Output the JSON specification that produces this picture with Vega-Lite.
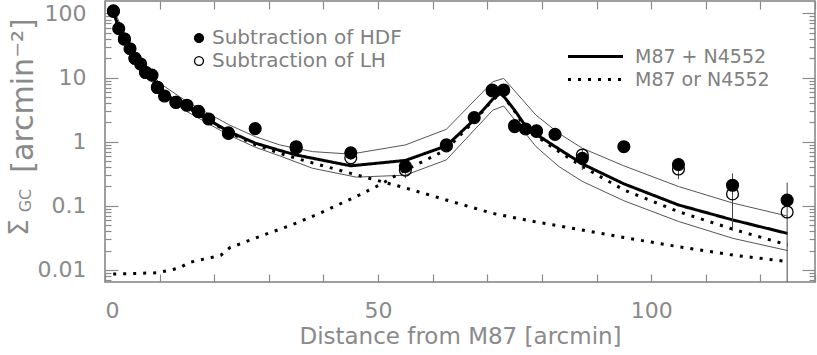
{
  "$schema": "https://vega.github.io/schema/vega-lite/v6.json",
  "width": 710,
  "height": 281,
  "autosize": "none",
  "padding": {"left": 105, "top": 1, "right": 2, "bottom": 73},
  "background": "white",
  "config": {
    "font": "DejaVu Sans",
    "view": {"stroke": "#808080", "strokeWidth": 1.5},
    "axis": {"domain": false, "grid": false, "labelColor": "#8a8a8a", "titleColor": "#8a8a8a", "tickColor": "#8a8a8a", "labelFontWeight": "normal", "titleFontWeight": "normal", "labelFontSize": 22, "titleFontSize": 22}
  },
  "datasets": {
    "env": [
      {"r": 1.5, "v": 118, "band": "upper"}, {"r": 5, "v": 27, "band": "upper"}, {"r": 10, "v": 8.2, "band": "upper"}, {"r": 15, "v": 4.2, "band": "upper"}, {"r": 20, "v": 2.45, "band": "upper"}, {"r": 22.6, "v": 1.85, "band": "upper"}, {"r": 27.5, "v": 1.2, "band": "upper"}, {"r": 32, "v": 0.89, "band": "upper"}, {"r": 38, "v": 0.7, "band": "upper"}, {"r": 45, "v": 0.64, "band": "upper"}, {"r": 55, "v": 0.89, "band": "upper"}, {"r": 62.5, "v": 1.56, "band": "upper"}, {"r": 71, "v": 8.6, "band": "upper"}, {"r": 73, "v": 9.7, "band": "upper"}, {"r": 78.9, "v": 2.6, "band": "upper"}, {"r": 83.1, "v": 1.35, "band": "upper"}, {"r": 87.4, "v": 0.79, "band": "upper"}, {"r": 95, "v": 0.42, "band": "upper"}, {"r": 105, "v": 0.2, "band": "upper"}, {"r": 115, "v": 0.11, "band": "upper"}, {"r": 125, "v": 0.069, "band": "upper"},
      {"r": 1.5, "v": 100, "band": "lower"}, {"r": 5, "v": 21, "band": "lower"}, {"r": 10, "v": 6.0, "band": "lower"}, {"r": 15, "v": 2.95, "band": "lower"}, {"r": 20, "v": 1.7, "band": "lower"}, {"r": 22.6, "v": 1.28, "band": "lower"}, {"r": 27.5, "v": 0.82, "band": "lower"}, {"r": 32, "v": 0.6, "band": "lower"}, {"r": 38, "v": 0.385, "band": "lower"}, {"r": 46, "v": 0.28, "band": "lower"}, {"r": 55, "v": 0.3, "band": "lower"}, {"r": 62.5, "v": 0.52, "band": "lower"}, {"r": 71, "v": 3.1, "band": "lower"}, {"r": 73, "v": 3.6, "band": "lower"}, {"r": 78.9, "v": 0.84, "band": "lower"}, {"r": 83.1, "v": 0.41, "band": "lower"}, {"r": 87.4, "v": 0.24, "band": "lower"}, {"r": 95, "v": 0.12, "band": "lower"}, {"r": 105, "v": 0.057, "band": "lower"}, {"r": 115, "v": 0.031, "band": "lower"}, {"r": 125, "v": 0.02, "band": "lower"}
    ],
    "model": [
      {"r": 1.5, "v": 108, "comp": "sum", "type": "M87 + N4552"}, {"r": 2.5, "v": 60, "comp": "sum", "type": "M87 + N4552"}, {"r": 3.5, "v": 40, "comp": "sum", "type": "M87 + N4552"}, {"r": 4.5, "v": 29, "comp": "sum", "type": "M87 + N4552"}, {"r": 5.5, "v": 21.5, "comp": "sum", "type": "M87 + N4552"}, {"r": 6.5, "v": 16.5, "comp": "sum", "type": "M87 + N4552"}, {"r": 7.5, "v": 13, "comp": "sum", "type": "M87 + N4552"}, {"r": 8.5, "v": 10.6, "comp": "sum", "type": "M87 + N4552"}, {"r": 10, "v": 6.9, "comp": "sum", "type": "M87 + N4552"}, {"r": 12, "v": 4.9, "comp": "sum", "type": "M87 + N4552"}, {"r": 15, "v": 3.5, "comp": "sum", "type": "M87 + N4552"}, {"r": 18.5, "v": 2.3, "comp": "sum", "type": "M87 + N4552"}, {"r": 22.6, "v": 1.45, "comp": "sum", "type": "M87 + N4552"}, {"r": 27.5, "v": 0.95, "comp": "sum", "type": "M87 + N4552"}, {"r": 32, "v": 0.73, "comp": "sum", "type": "M87 + N4552"}, {"r": 35, "v": 0.62, "comp": "sum", "type": "M87 + N4552"}, {"r": 45, "v": 0.42, "comp": "sum", "type": "M87 + N4552"}, {"r": 55, "v": 0.51, "comp": "sum", "type": "M87 + N4552"}, {"r": 62.5, "v": 0.86, "comp": "sum", "type": "M87 + N4552"}, {"r": 67.6, "v": 2.2, "comp": "sum", "type": "M87 + N4552"}, {"r": 71, "v": 4.6, "comp": "sum", "type": "M87 + N4552"}, {"r": 72.5, "v": 5.8, "comp": "sum", "type": "M87 + N4552"}, {"r": 75, "v": 3.1, "comp": "sum", "type": "M87 + N4552"}, {"r": 77, "v": 1.75, "comp": "sum", "type": "M87 + N4552"}, {"r": 79, "v": 1.3, "comp": "sum", "type": "M87 + N4552"}, {"r": 82.4, "v": 0.84, "comp": "sum", "type": "M87 + N4552"}, {"r": 87.4, "v": 0.45, "comp": "sum", "type": "M87 + N4552"}, {"r": 95, "v": 0.22, "comp": "sum", "type": "M87 + N4552"}, {"r": 105, "v": 0.103, "comp": "sum", "type": "M87 + N4552"}, {"r": 115, "v": 0.06, "comp": "sum", "type": "M87 + N4552"}, {"r": 125, "v": 0.037, "comp": "sum", "type": "M87 + N4552"},
      {"r": 1.5, "v": 108, "comp": "m87", "type": "M87 or N4552"}, {"r": 2.5, "v": 60, "comp": "m87", "type": "M87 or N4552"}, {"r": 3.5, "v": 40, "comp": "m87", "type": "M87 or N4552"}, {"r": 4.5, "v": 29, "comp": "m87", "type": "M87 or N4552"}, {"r": 5.5, "v": 21.5, "comp": "m87", "type": "M87 or N4552"}, {"r": 6.5, "v": 16.5, "comp": "m87", "type": "M87 or N4552"}, {"r": 7.5, "v": 13, "comp": "m87", "type": "M87 or N4552"}, {"r": 8.5, "v": 10.6, "comp": "m87", "type": "M87 or N4552"}, {"r": 10, "v": 6.9, "comp": "m87", "type": "M87 or N4552"}, {"r": 12, "v": 4.85, "comp": "m87", "type": "M87 or N4552"}, {"r": 15, "v": 3.45, "comp": "m87", "type": "M87 or N4552"}, {"r": 18.5, "v": 2.25, "comp": "m87", "type": "M87 or N4552"}, {"r": 22.6, "v": 1.4, "comp": "m87", "type": "M87 or N4552"}, {"r": 27.5, "v": 0.9, "comp": "m87", "type": "M87 or N4552"}, {"r": 32, "v": 0.66, "comp": "m87", "type": "M87 or N4552"}, {"r": 35, "v": 0.55, "comp": "m87", "type": "M87 or N4552"}, {"r": 45, "v": 0.32, "comp": "m87", "type": "M87 or N4552"}, {"r": 55, "v": 0.19, "comp": "m87", "type": "M87 or N4552"}, {"r": 62.5, "v": 0.123, "comp": "m87", "type": "M87 or N4552"}, {"r": 71, "v": 0.076, "comp": "m87", "type": "M87 or N4552"}, {"r": 78.9, "v": 0.056, "comp": "m87", "type": "M87 or N4552"}, {"r": 85.3, "v": 0.045, "comp": "m87", "type": "M87 or N4552"}, {"r": 95, "v": 0.032, "comp": "m87", "type": "M87 or N4552"}, {"r": 105, "v": 0.023, "comp": "m87", "type": "M87 or N4552"}, {"r": 115, "v": 0.017, "comp": "m87", "type": "M87 or N4552"}, {"r": 125, "v": 0.0135, "comp": "m87", "type": "M87 or N4552"},
      {"r": 1.5, "v": 0.0086, "comp": "n4552", "type": "M87 or N4552"}, {"r": 9.5, "v": 0.009, "comp": "n4552", "type": "M87 or N4552"}, {"r": 11.7, "v": 0.0098, "comp": "n4552", "type": "M87 or N4552"}, {"r": 13.7, "v": 0.0108, "comp": "n4552", "type": "M87 or N4552"}, {"r": 15.4, "v": 0.013, "comp": "n4552", "type": "M87 or N4552"}, {"r": 17.3, "v": 0.0142, "comp": "n4552", "type": "M87 or N4552"}, {"r": 19.3, "v": 0.0155, "comp": "n4552", "type": "M87 or N4552"}, {"r": 21.2, "v": 0.0169, "comp": "n4552", "type": "M87 or N4552"}, {"r": 22.8, "v": 0.022, "comp": "n4552", "type": "M87 or N4552"}, {"r": 26.5, "v": 0.029, "comp": "n4552", "type": "M87 or N4552"}, {"r": 30.2, "v": 0.038, "comp": "n4552", "type": "M87 or N4552"}, {"r": 34.1, "v": 0.05, "comp": "n4552", "type": "M87 or N4552"}, {"r": 39.3, "v": 0.076, "comp": "n4552", "type": "M87 or N4552"}, {"r": 46.6, "v": 0.148, "comp": "n4552", "type": "M87 or N4552"}, {"r": 50.2, "v": 0.21, "comp": "n4552", "type": "M87 or N4552"}, {"r": 55, "v": 0.36, "comp": "n4552", "type": "M87 or N4552"}, {"r": 60.6, "v": 0.62, "comp": "n4552", "type": "M87 or N4552"}, {"r": 62.5, "v": 0.76, "comp": "n4552", "type": "M87 or N4552"}, {"r": 67.6, "v": 2.1, "comp": "n4552", "type": "M87 or N4552"}, {"r": 71, "v": 4.5, "comp": "n4552", "type": "M87 or N4552"}, {"r": 72.5, "v": 5.7, "comp": "n4552", "type": "M87 or N4552"}, {"r": 75, "v": 3.0, "comp": "n4552", "type": "M87 or N4552"}, {"r": 77, "v": 1.65, "comp": "n4552", "type": "M87 or N4552"}, {"r": 79, "v": 1.22, "comp": "n4552", "type": "M87 or N4552"}, {"r": 83.1, "v": 0.7, "comp": "n4552", "type": "M87 or N4552"}, {"r": 87.4, "v": 0.41, "comp": "n4552", "type": "M87 or N4552"}, {"r": 95, "v": 0.177, "comp": "n4552", "type": "M87 or N4552"}, {"r": 105, "v": 0.081, "comp": "n4552", "type": "M87 or N4552"}, {"r": 115, "v": 0.043, "comp": "n4552", "type": "M87 or N4552"}, {"r": 125, "v": 0.0245, "comp": "n4552", "type": "M87 or N4552"}
    ],
    "err": [
      {"r": 45, "lo": 0.52, "hi": 0.72}, {"r": 55, "lo": 0.27, "hi": 0.46}, {"r": 87.4, "lo": 0.36, "hi": 0.76}, {"r": 105, "lo": 0.26, "hi": 0.56}, {"r": 114.9, "lo": 0.041, "hi": 0.32}, {"r": 124.9, "lo": 0.005, "hi": 0.23}
    ],
    "pts": [
      {"r": 1.54, "v": 108, "series": "Subtraction of LH"}, {"r": 3.55, "v": 40, "series": "Subtraction of LH"}, {"r": 5.49, "v": 20, "series": "Subtraction of LH"}, {"r": 7.44, "v": 12, "series": "Subtraction of LH"}, {"r": 9.6, "v": 7.0, "series": "Subtraction of LH"}, {"r": 13.0, "v": 4.1, "series": "Subtraction of LH"}, {"r": 17.1, "v": 2.95, "series": "Subtraction of LH"}, {"r": 22.6, "v": 1.35, "series": "Subtraction of LH"}, {"r": 35.0, "v": 0.8, "series": "Subtraction of LH"}, {"r": 45.0, "v": 0.56, "series": "Subtraction of LH"}, {"r": 55.0, "v": 0.36, "series": "Subtraction of LH"}, {"r": 62.5, "v": 0.86, "series": "Subtraction of LH"}, {"r": 70.9, "v": 6.2, "series": "Subtraction of LH"}, {"r": 75.0, "v": 1.72, "series": "Subtraction of LH"}, {"r": 79.0, "v": 1.45, "series": "Subtraction of LH"}, {"r": 87.4, "v": 0.62, "series": "Subtraction of LH"}, {"r": 105.0, "v": 0.375, "series": "Subtraction of LH"}, {"r": 114.9, "v": 0.153, "series": "Subtraction of LH"}, {"r": 124.9, "v": 0.08, "series": "Subtraction of LH"},
      {"r": 1.54, "v": 110, "series": "Subtraction of HDF"}, {"r": 2.51, "v": 58, "series": "Subtraction of HDF"}, {"r": 3.55, "v": 40, "series": "Subtraction of HDF"}, {"r": 4.58, "v": 28.2, "series": "Subtraction of HDF"}, {"r": 5.49, "v": 20, "series": "Subtraction of HDF"}, {"r": 6.53, "v": 16.3, "series": "Subtraction of HDF"}, {"r": 7.44, "v": 12.1, "series": "Subtraction of HDF"}, {"r": 8.6, "v": 10.9, "series": "Subtraction of HDF"}, {"r": 9.6, "v": 7.06, "series": "Subtraction of HDF"}, {"r": 10.9, "v": 5.16, "series": "Subtraction of HDF"}, {"r": 13.0, "v": 4.12, "series": "Subtraction of HDF"}, {"r": 15.0, "v": 3.7, "series": "Subtraction of HDF"}, {"r": 17.1, "v": 2.98, "series": "Subtraction of HDF"}, {"r": 19.0, "v": 2.26, "series": "Subtraction of HDF"}, {"r": 22.6, "v": 1.37, "series": "Subtraction of HDF"}, {"r": 27.5, "v": 1.6, "series": "Subtraction of HDF"}, {"r": 35.0, "v": 0.835, "series": "Subtraction of HDF"}, {"r": 45.0, "v": 0.67, "series": "Subtraction of HDF"}, {"r": 55.0, "v": 0.41, "series": "Subtraction of HDF"}, {"r": 62.5, "v": 0.89, "series": "Subtraction of HDF"}, {"r": 67.6, "v": 2.37, "series": "Subtraction of HDF"}, {"r": 70.9, "v": 6.4, "series": "Subtraction of HDF"}, {"r": 73.0, "v": 6.4, "series": "Subtraction of HDF"}, {"r": 75.0, "v": 1.78, "series": "Subtraction of HDF"}, {"r": 77.0, "v": 1.58, "series": "Subtraction of HDF"}, {"r": 79.0, "v": 1.48, "series": "Subtraction of HDF"}, {"r": 82.4, "v": 1.3, "series": "Subtraction of HDF"}, {"r": 87.4, "v": 0.55, "series": "Subtraction of HDF"}, {"r": 95.0, "v": 0.835, "series": "Subtraction of HDF"}, {"r": 105.0, "v": 0.44, "series": "Subtraction of HDF"}, {"r": 114.9, "v": 0.209, "series": "Subtraction of HDF"}, {"r": 124.9, "v": 0.123, "series": "Subtraction of HDF"}
    ]
  },
  "resolve": {"axis": {"x": "independent", "y": "independent"}},
  "layer": [
    {
      "data": {"name": "env"},
      "mark": {"type": "line", "stroke": "#555555", "strokeWidth": 1, "clip": true},
      "encoding": {
        "x": {"field": "r", "type": "quantitative", "scale": {"domain": [0, 130], "nice": false, "zero": false},
          "axis": {"orient": "bottom", "values": [0,10,20,30,40,50,60,70,80,90,100,110,120,130], "labelExpr": "datum.value % 50 == 0 ? datum.label : ''", "tickSize": -8, "tickWidth": 1.2, "labelPadding": 26, "title": "Distance from M87 [arcmin]", "titleFontSize": 23, "titlePadding": 4}},
        "y": {"field": "v", "type": "quantitative", "scale": {"type": "log", "domain": [0.00647, 156.6], "nice": false},
          "axis": {"orient": "left", "values": [0.007,0.008,0.009,0.01,0.02,0.03,0.04,0.05,0.06,0.07,0.08,0.09,0.1,0.2,0.3,0.4,0.5,0.6,0.7,0.8,0.9,1,2,3,4,5,6,7,8,9,10,20,30,40,50,60,70,80,90,100],
            "format": "~g",
            "labelExpr": "abs(log(datum.value)/LN10 - round(log(datum.value)/LN10)) < 0.001 ? datum.label : ''",
            "tickSize": {"condition": {"test": "abs(log(datum.value)/LN10 - round(log(datum.value)/LN10)) < 0.001", "value": -13}, "value": -6},
            "tickWidth": 1.2, "labelPadding": 32,
            "title": "Σ", "titleAngle": 270, "titleFontSize": 26, "titleX": -86, "titleY": 226, "titleAlign": "center", "titleBaseline": "middle"}},
        "detail": {"field": "band"}
      }
    },
    {
      "data": {"name": "model"},
      "mark": {"type": "line", "color": "black", "strokeWidth": 3, "clip": true},
      "encoding": {
        "x": {"field": "r", "type": "quantitative", "scale": {"domain": [0, 130], "nice": false, "zero": false},
          "axis": {"orient": "top", "values": [0,10,20,30,40,50,60,70,80,90,100,110,120,130], "labels": false, "tickSize": -8, "tickWidth": 1.2, "title": null}},
        "y": {"field": "v", "type": "quantitative", "scale": {"type": "log", "domain": [0.00647, 156.6], "nice": false},
          "axis": {"orient": "right", "values": [0.007,0.008,0.009,0.01,0.02,0.03,0.04,0.05,0.06,0.07,0.08,0.09,0.1,0.2,0.3,0.4,0.5,0.6,0.7,0.8,0.9,1,2,3,4,5,6,7,8,9,10,20,30,40,50,60,70,80,90,100], "labels": false,
            "tickSize": {"condition": {"test": "abs(log(datum.value)/LN10 - round(log(datum.value)/LN10)) < 0.001", "value": -13}, "value": -6},
            "tickWidth": 1.2, "title": null}},
        "detail": {"field": "comp"},
        "strokeDash": {"field": "type", "type": "nominal", "scale": {"domain": ["M87 + N4552", "M87 or N4552"], "range": [[1, 0], [3, 7]]},
          "legend": {"title": null, "orient": "none", "legendX": 481, "legendY": 46, "symbolType": "M-5,0H5", "symbolSize": 121, "symbolStrokeWidth": 3, "symbolStrokeColor": "black", "symbolFillColor": "transparent", "labelFontSize": 19, "labelColor": "#808080", "labelOffset": 30, "labelLimit": 400, "rowPadding": 3, "padding": 0}}
      }
    },
    {
      "data": {"name": "err"},
      "mark": {"type": "rule", "color": "#444444", "strokeWidth": 1, "clip": true},
      "encoding": {
        "x": {"field": "r", "type": "quantitative", "scale": {"domain": [0, 130], "nice": false, "zero": false}, "axis": null},
        "y": {"field": "lo", "type": "quantitative", "scale": {"type": "log", "domain": [0.00647, 156.6], "nice": false},
          "axis": {"orient": "left", "labels": false, "ticks": false, "domain": false, "title": "GC", "titleAngle": 270, "titleFontSize": 16, "titleX": -80, "titleY": 199, "titleAlign": "center", "titleBaseline": "middle"}},
        "y2": {"field": "hi"}
      }
    },
    {
      "data": {"name": "pts"},
      "mark": {"type": "point", "shape": "circle", "filled": true, "stroke": "black", "strokeWidth": 1.3, "opacity": 1, "size": 140},
      "encoding": {
        "x": {"field": "r", "type": "quantitative", "scale": {"domain": [0, 130], "nice": false, "zero": false}, "axis": null},
        "y": {"field": "v", "type": "quantitative", "scale": {"type": "log", "domain": [0.00647, 156.6], "nice": false},
          "axis": {"orient": "left", "labels": false, "ticks": false, "domain": false, "title": "[arcmin⁻²]", "titleAngle": 270, "titleFontSize": 30, "titleX": -82, "titleY": 94, "titleAlign": "center", "titleBaseline": "middle"}},
        "fill": {"field": "series", "type": "nominal", "scale": {"domain": ["Subtraction of HDF", "Subtraction of LH"], "range": ["black", "transparent"]},
          "legend": {"title": null, "orient": "none", "legendX": 84, "legendY": 27, "symbolType": "circle", "symbolSize": 80, "symbolStrokeColor": "black", "symbolStrokeWidth": 1.3, "labelFontSize": 20, "labelColor": "#808080", "labelOffset": 3, "labelLimit": 400, "rowPadding": 3, "padding": 0}}
      }
    }
  ]
}
